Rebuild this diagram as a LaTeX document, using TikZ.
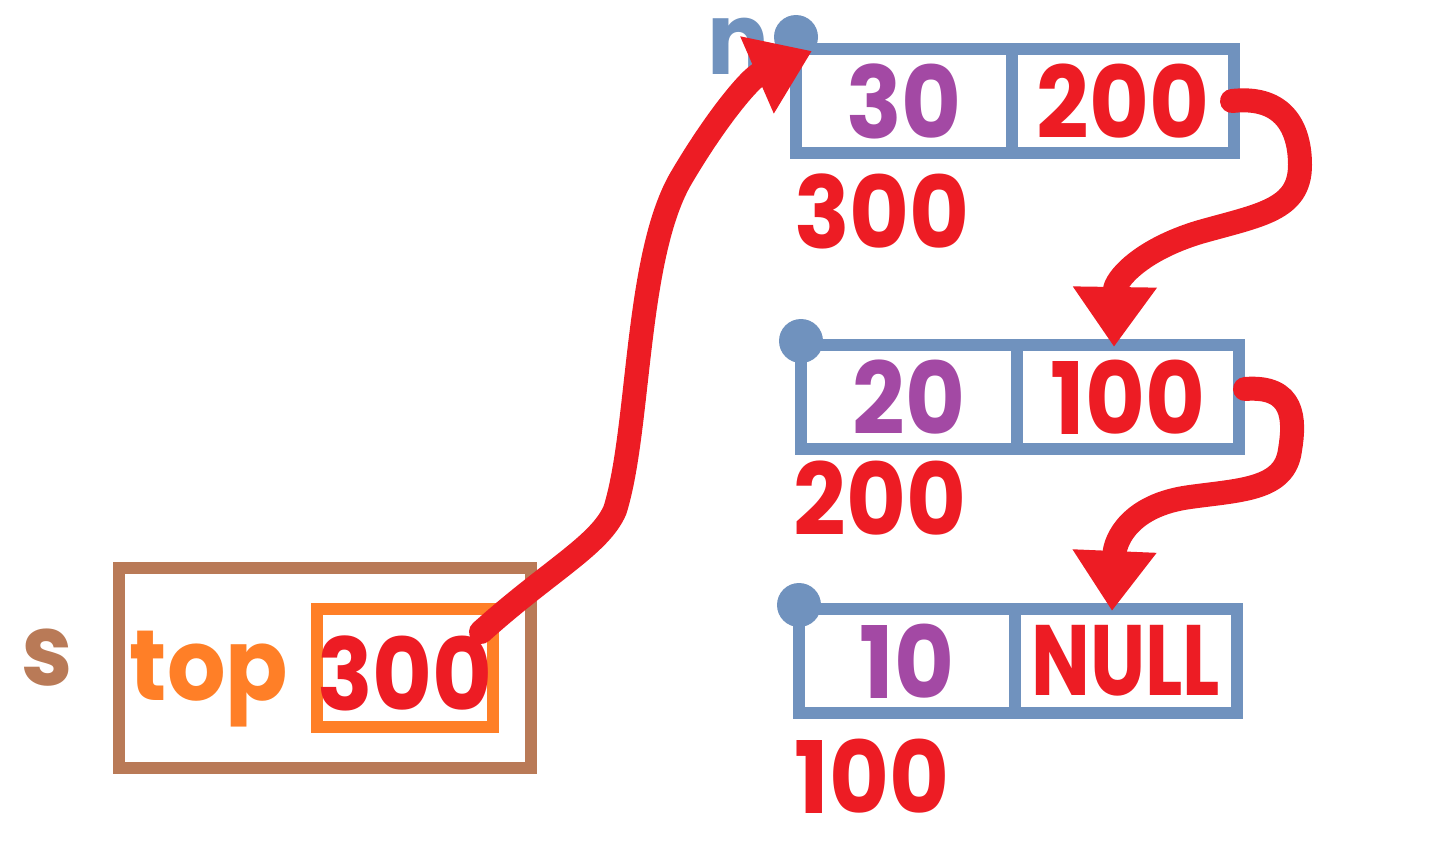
\documentclass[tikz,border=0pt]{standalone}
\usepackage{fontspec}
\setmainfont{Poppins}[FakeStretch=0.92]
\usetikzlibrary{arrows.meta,positioning}
\definecolor{cellblue}{RGB}{112,146,190}
\definecolor{ptrred}{RGB}{237,28,36}
\definecolor{valpurple}{RGB}{163,73,164}
\definecolor{toporange}{RGB}{255,127,39}
\definecolor{stackbrown}{RGB}{185,122,87}

\begin{document}
\begin{tikzpicture}[x=0.5pt,y=-0.5pt,>={Triangle[length=30pt,width=40pt]},
    txt/.style={font=\fontsize{50}{54}\selectfont\bfseries, inner sep=0pt, outer sep=0pt},
    cell/.style={txt, draw=cellblue, line width=6pt, minimum width=108pt, minimum height=52pt},
    ptrcell/.style={cell, minimum width=111pt, text=ptrred, anchor=west},
    dot/.style={circle, fill=cellblue, minimum size=22pt, inner sep=0pt},
    link/.style={->, color=ptrred, line width=12pt, line cap=round, line join=round}]
    \useasboundingbox (0,0) rectangle (1448,846);
    % stack s
    \node[txt, text=stackbrown, anchor=base] (s) at (47,685) {s};
    \node[draw=stackbrown, line width=6pt, minimum width=206pt, minimum height=100pt] (sbox) at (325,668) {};
    \node[txt, text=toporange, anchor=base] (top) at (209,700) {top};
    \node[txt, draw=toporange, line width=6pt, minimum width=88pt, minimum height=59pt] (ob) at (405,668) {};
    \node[txt, text=ptrred, anchor=base] (p) at (405,710) {300};
    % nodes of the list
    \node[txt, text=cellblue, anchor=base] (n) at (738,75) {n};
    \node[cell, text=valpurple, anchor=west] (c1l) at (796,101) {30};
    \node[ptrcell] (c1r) at (c1l.east) {200};
    \node[cell, text=valpurple, anchor=west] (c2l) at (801,397) {20};
    \node[ptrcell] (c2r) at (c2l.east) {100};
    \node[cell, text=valpurple, anchor=west] (c3l) at (799,661) {10};
    \node[ptrcell] (c3r) at (c3l.east) {\scalebox{0.85}[1]{NULL}};
    \node[dot] (d1) at ([yshift=6pt]c1l.north west) {};
    \node[dot] (d2) at ([yshift=2pt]c2l.north west) {};
    \node[dot] (d3) at ([yshift=2pt]c3l.north west) {};
    % addresses
    \node[txt, text=ptrred, anchor=base] (a1) at (882,248) {300};
    \node[txt, text=ptrred, anchor=base] (a2) at (880,535) {200};
    \node[txt, text=ptrred, anchor=base] (a3) at (872,813) {100};
    % pointers
    \draw[link] ([xshift=-6pt,yshift=18pt]ob.east) .. controls (550,570) and (600,545) .. (615,510)
        .. controls (640,430) and (635,260) .. (680,180) .. controls (715,120) and (750,78) .. ([xshift=8pt,yshift=-1pt]c1l.north west);
    \draw[link] ([xshift=-1pt]c1r.east) .. controls (1285,95) and (1300,130) .. (1300,165)
        .. controls (1300,210) and (1260,215) .. (1200,232) .. controls (1140,250) and (1115,280) .. ([xshift=-7pt,yshift=-1pt]c2r.north);
    \draw[link] ([xshift=3pt,yshift=4pt]c2r.east) .. controls (1295,385) and (1295,420) .. (1290,450)
        .. controls (1285,490) and (1240,490) .. (1190,497) .. controls (1130,505) and (1115,540) .. ([xshift=-7pt,yshift=-1pt]c3r.north);
\end{tikzpicture}
\end{document}
